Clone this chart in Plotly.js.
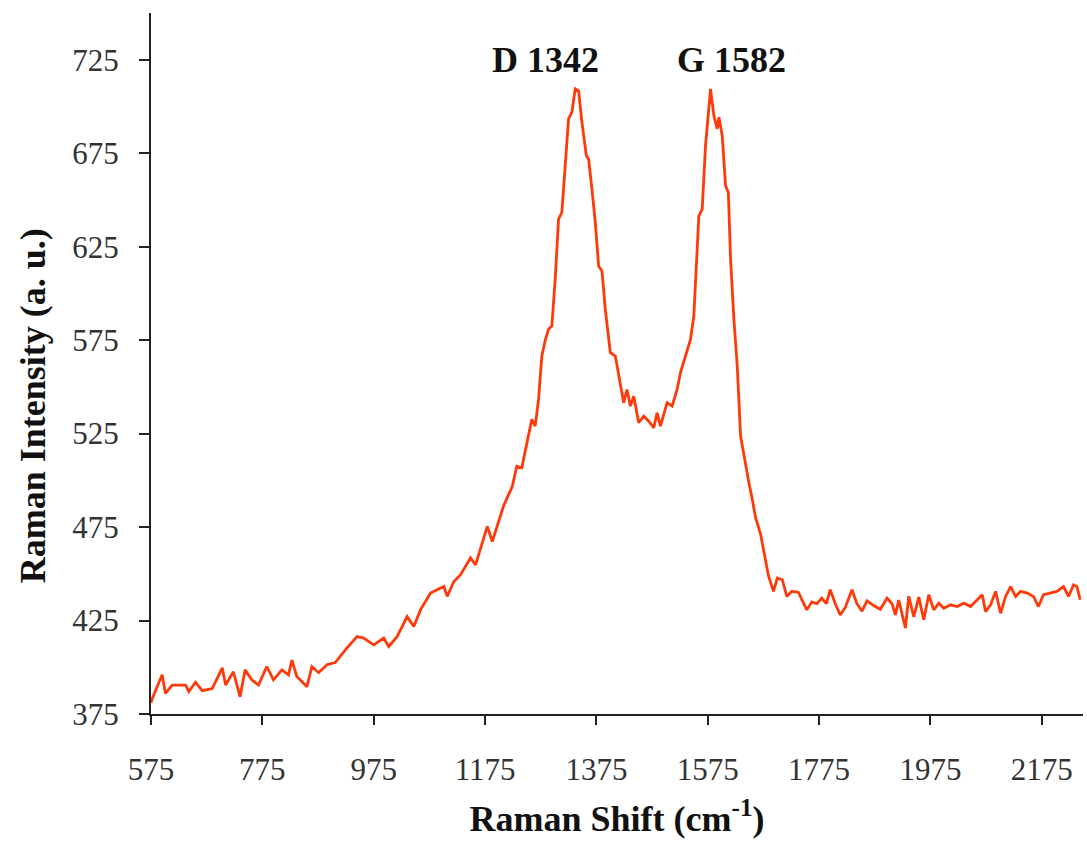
<!DOCTYPE html>
<html>
<head>
<meta charset="utf-8">
<script src="https://cdn.plot.ly/plotly-3.0.1.min.js"></script>
<style>
  html, body { margin: 0; padding: 0; background: #ffffff; }
  #chart { width: 1087px; height: 845px; }
</style>
</head>
<body>
<div id="chart"></div>
<script>
// Raman shift (cm-1)
const ramanShift = [
  575, 577, 595, 601, 613, 637, 643, 655, 667, 685, 703, 709, 723, 735, 744, 756, 768, 783, 795, 810,
  822, 828, 837, 855, 864, 876, 891, 906, 924, 945, 957, 975, 993, 1002, 1017, 1035, 1047, 1059, 1077, 1101,
  1107, 1119, 1131, 1149, 1158, 1179, 1188, 1208, 1224, 1232, 1241, 1244, 1250, 1259, 1265, 1271, 1277, 1283, 1289, 1295,
  1301, 1307, 1313, 1319, 1325, 1331, 1337, 1343, 1349, 1357, 1361, 1367, 1373, 1379, 1385, 1391, 1400, 1409, 1418, 1424,
  1430, 1436, 1442, 1451, 1460, 1469, 1478, 1484, 1490, 1502, 1511, 1520, 1526, 1535, 1544, 1550, 1556, 1559, 1565, 1571,
  1580, 1586, 1592, 1595, 1601, 1607, 1612, 1616, 1622, 1628, 1634, 1643, 1649, 1655, 1661, 1670, 1679, 1684, 1693, 1700,
  1709, 1717, 1726, 1738, 1747, 1753, 1762, 1771, 1780, 1788, 1795, 1804, 1813, 1822, 1834, 1843, 1852, 1861, 1873, 1885,
  1897, 1906, 1912, 1918, 1930, 1936, 1945, 1954, 1963, 1972, 1981, 1990, 1999, 2011, 2023, 2035, 2047, 2059, 2068, 2074,
  2083, 2092, 2101, 2110, 2119, 2128, 2137, 2149, 2160, 2169, 2178, 2190, 2202, 2214, 2223, 2232, 2238, 2244
];

// Raman intensity (a. u.)
const intensity = [
  381, 383, 396, 386, 390.5, 390.5, 387, 392, 387.5, 388.6, 399.7, 390.5, 397.6, 384.2, 398.6, 393.3, 390.5, 400.4, 393.3, 398.6,
  395.9, 403.9, 395, 389.6, 400.4, 397.1, 401.4, 402.5, 409.3, 416.4, 415.6, 412, 415.6, 411.1, 416.4, 427.1, 421.8, 430.7, 439.7, 443.2,
  437.9, 445.9, 449.5, 458.6, 454.8, 475.4, 467.3, 486.1, 496.8, 507.5, 506.7, 511.1, 520, 532.6, 529, 543, 566.5, 574.8, 580.8, 582.6,
  607.6, 639.7, 643.3, 666.5, 693.3, 697, 709.4, 708.3, 691.6, 673.7, 671.9, 655.8, 638, 614.7, 612, 591.5, 568.3, 566.5, 552.2, 541.5,
  548.6, 539.7, 545, 530.8, 534.3, 531.6, 528.1, 536.1, 529, 541.5, 539.7, 548.6, 557.6, 566.5, 575.4, 588, 623.7, 641.5, 645, 679,
  709.4, 695, 688, 694.3, 684.4, 657.6, 654, 618.3, 586, 561.1, 523.6, 507.5, 498.6, 489.7, 480, 471, 457.5, 449, 440.6, 447.7,
  446.8, 437.9, 440.6, 440, 434.3, 430.7, 435, 434, 437, 434, 441.5, 434, 428, 432, 441.5, 434, 430, 435.5, 433, 431,
  437, 434, 428, 436, 421, 438, 427, 437.5, 425.4, 438.8, 430.7, 434.3, 431.6, 433.4, 432.5, 434.3, 432.5, 436.1, 438.8, 429.8,
  433.4, 440.6, 428.9, 437.9, 443.2, 437.9, 440.6, 439.7, 437.9, 432.5, 438.8, 439.7, 440.6, 443.2, 437.9, 444.1, 443.2, 436.1
];

// Peak labels
const peakLabels = ["D 1342", "G 1582"];
const peakLabelX = [1283, 1618];
const peakLabelY = [725, 725];

const xTitle = "Raman Shift (cm<sup>-1</sup>)";
const yTitle = "Raman Intensity (a. u.)";

const serif = "Liberation Serif, Times New Roman, serif";
const boldFont = { family: serif, size: 36, color: "#111111", weight: "bold" };

const trace = {
  x: ramanShift,
  y: intensity,
  type: "scatter",
  mode: "lines",
  line: { color: "#ff3a0a", width: 2.8 },
  hoverinfo: "x+y",
  showlegend: false
};

const annotations = peakLabels.map((t, i) => ({
  x: peakLabelX[i], y: peakLabelY[i], xref: "x", yref: "y",
  text: t, showarrow: false,
  font: boldFont
}));

// y-axis title, placed like the reference (slightly below the plot centre)
annotations.push({
  xref: "paper", yref: "paper",
  x: -0.127, y: 0.44,
  xanchor: "center", yanchor: "middle",
  textangle: -90,
  text: yTitle, showarrow: false,
  font: boldFont
});

const layout = {
  width: 1087, height: 845,
  margin: { l: 151, r: 4, t: 13, b: 131, pad: 0 },
  paper_bgcolor: "#ffffff",
  plot_bgcolor: "#ffffff",
  showlegend: false,
  xaxis: {
    range: [575, 2249],
    tick0: 575, dtick: 200, tickmode: "linear",
    ticks: "outside", ticklen: 9, tickwidth: 2, tickcolor: "#222222",
    showline: true, linecolor: "#222222", linewidth: 2,
    showgrid: false, zeroline: false,
    ticklabelstandoff: 18,
    tickfont: { family: serif, size: 31, color: "#333333" },
    title: { text: xTitle, standoff: 20, font: boldFont },
    automargin: false
  },
  yaxis: {
    range: [375, 750],
    tick0: 375, dtick: 50, tickmode: "linear",
    ticks: "outside", ticklen: 10, tickwidth: 2, tickcolor: "#222222",
    showline: true, linecolor: "#222222", linewidth: 2,
    showgrid: false, zeroline: false,
    ticklabelstandoff: 14,
    tickfont: { family: serif, size: 31, color: "#333333" },
    automargin: false
  },
  annotations: annotations
};

Plotly.newPlot("chart", [trace], layout, { staticPlot: true, displayModeBar: false });
</script>
</body>
</html>
